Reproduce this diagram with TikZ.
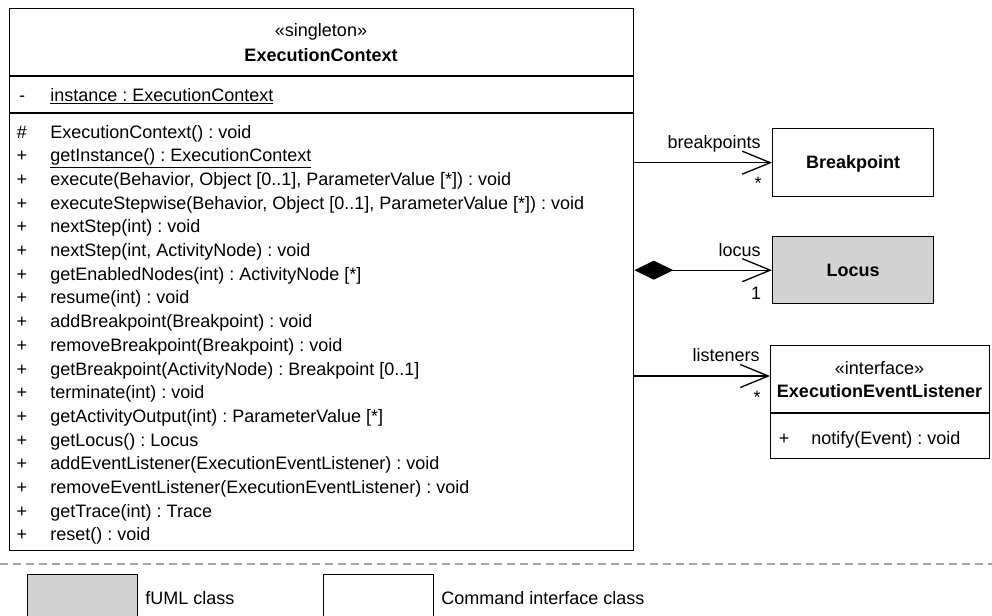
\documentclass[tikz,border=0pt]{standalone}
\usepackage{fontspec}
\setmainfont{Liberation Sans}
\usepackage{xcolor}
\usetikzlibrary{arrows.meta,positioning}

\newcommand{\pxu}{0.6pt}
\definecolor{fumlgray}{RGB}{211,211,211}
\definecolor{sepgray}{RGB}{165,165,165}

\begin{document}
\begin{tikzpicture}[x=\pxu,y=-\pxu,
  font=\fontsize{10.8}{13}\selectfont\frenchspacing,
  txt/.style={inner sep=0pt,text height=0.72em,text depth=0pt},
  umlbox/.style={draw,line width=0.8pt,inner sep=0pt,anchor=north west,
    text height=0.72em,text depth=0pt},
  navarrow/.style={line width=0.8pt,-{Straight Barb[length=16.8pt,width=13.8pt]}},
  comparrow/.style={line width=0.8pt,
    {Diamond[length=23.4pt,width=11.4pt]}-{Straight Barb[length=16.8pt,width=13.8pt]}},
  dashline/.style={sepgray,line width=0.8pt,dash pattern=on 4.8pt off 3pt}]
  \useasboundingbox (0,0) rectangle (992,615);
  \clip (0,0) rectangle (992,615);

  % ExecutionContext
  \node[umlbox,minimum width=624*\pxu,minimum height=542*\pxu] (ctx) at (9,8) {};
  \node[txt] (ctxstereo) at (321,30) {«singleton»};
  \node[txt] (ctxname) at (321,55) {\bfseries ExecutionContext};
  \draw[line width=0.8pt] (ctx.west |- 0,76) -- (ctx.east |- 0,76);
  \draw[line width=0.8pt] (ctx.west |- 0,113) -- (ctx.east |- 0,113);
  \node[txt] (attmk) at (22,95) {-};
  \node[txt,anchor=west] (att) at (50,95) {\underline{instance : ExecutionContext}};
  \foreach \mk/\op [count=\i from 0] in {
      {\#}/{ExecutionContext() : void},
      +/{\underline{getInstance() : ExecutionContext}},
      +/{execute(Behavior, Object [0..1], ParameterValue [*]) : void},
      +/{executeStepwise(Behavior, Object [0..1], ParameterValue [*]) : void},
      +/{nextStep(int) : void},
      +/{nextStep(int, ActivityNode) : void},
      +/{getEnabledNodes(int) : ActivityNode [*]},
      +/{resume(int) : void},
      +/{addBreakpoint(Breakpoint) : void},
      +/{removeBreakpoint(Breakpoint) : void},
      +/{getBreakpoint(ActivityNode) : Breakpoint [0..1]},
      +/{terminate(int) : void},
      +/{getActivityOutput(int) : ParameterValue [*]},
      +/{getLocus() : Locus},
      +/{addEventListener(ExecutionEventListener) : void},
      +/{removeEventListener(ExecutionEventListener) : void},
      +/{getTrace(int) : Trace},
      +/{reset() : void}} {
    \node[txt] (mk\i) at (22,132+23.7*\i) {\mk};
    \node[txt,anchor=west] (op\i) at (50,132+23.7*\i) {\op};
  }

  % associated classes
  \node[umlbox,minimum width=161*\pxu,minimum height=68*\pxu] (bp) at (772,128) {\bfseries Breakpoint};
  \node[umlbox,fill=fumlgray,minimum width=161*\pxu,minimum height=67*\pxu] (locus) at (772,236) {\bfseries Locus};
  \node[umlbox,minimum width=219*\pxu,minimum height=113*\pxu] (lst) at (770,345) {};
  \node[txt] (lststereo) at (879.5,368) {«interface»};
  \node[txt] (lstname) at (879.5,391) {\bfseries ExecutionEventListener};
  \draw[line width=0.8pt] (lst.west |- 0,413) -- (lst.east |- 0,413);
  \node[txt] (lstmk) at (784,438) {+};
  \node[txt,anchor=west] (lstop) at (811,438) {notify(Event) : void};

  % associations
  \draw[navarrow] (ctx.east |- bp.west) -- (bp.west);
  \node[txt,anchor=east] (bplbl) at (761,142) {breakpoints};
  \node[txt] (bpmult) at (758,183) {*};

  \draw[comparrow] (ctx.east |- locus.west) -- (locus.west);
  \node[txt,anchor=east] (locuslbl) at (761,250) {locus};
  \node[txt] (locusmult) at (756,293) {1};

  \coordinate (lsttip) at (lst.west |- 0,376);
  \draw[navarrow] (ctx.east |- lsttip) -- (lsttip);
  \node[txt,anchor=east] (lstlbl) at (760,355) {listeners};
  \node[txt] (lstmult) at (757,397) {*};

  % legend
  \draw[dashline] (0,564) -- (992,564);
  \node[umlbox,fill=fumlgray,minimum width=110*\pxu,minimum height=60*\pxu] (legfuml) at (27,574) {};
  \node[txt,anchor=west] (legfumltxt) at (145,598) {fUML class};
  \node[umlbox,minimum width=110*\pxu,minimum height=60*\pxu] (legcmd) at (323,574) {};
  \node[txt,anchor=west] (legcmdtxt) at (441,598) {Command interface class};
\end{tikzpicture}
\end{document}
